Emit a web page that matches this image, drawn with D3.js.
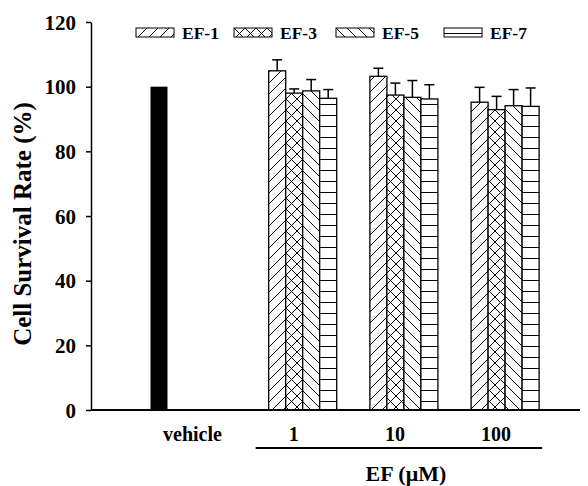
<!DOCTYPE html>
<html>
<head>
<meta charset="utf-8">
<script src="https://cdn.jsdelivr.net/npm/d3@7"></script>
<style>
  body { margin: 0; background: #fff; }
  svg text { font-family: "Liberation Serif", "Times New Roman", serif; font-weight: bold; fill: #000; }
</style>
</head>
<body>
<svg width="588" height="486"></svg>
<script>
// data
var groups = ["vehicle", "1", "10", "100"];
var series = ["EF-1", "EF-3", "EF-5", "EF-7"];
var vehicleVal = [100];
var ef1 = [104.9, 103.2, 95.2];
var ef3 = [98.0, 97.4, 92.9];
var ef5 = [98.7, 96.7, 94.1];
var ef7 = [96.4, 96.2, 93.9];
var ef1Err = [3.4, 2.5, 4.6];
var ef3Err = [1.3, 3.7, 4.1];
var ef5Err = [3.5, 5.2, 5.0];
var ef7Err = [2.7, 4.4, 5.7];
var yTicks = [0, 20, 40, 60, 80, 100, 120];

var svg = d3.select("svg");

var y = d3.scaleLinear().domain([0, 120]).range([410, 22]);
var x = d3.scaleBand().domain(groups).range([150.9, 555.7]).paddingInner(0.328).paddingOuter(0.164);
var xs = d3.scaleBand().domain(series).range([0, x.bandwidth()]);

// hatch patterns
var defs = svg.append("defs");
var hatch = {
  "EF-1": "M0,11 L11,0 M-3,3 L3,-3 M8,14 L14,8",
  "EF-3": "M0,11 L11,0 M-3,3 L3,-3 M8,14 L14,8 M0,0 L11,11 M-3,8 L3,14 M8,-3 L14,3",
  "EF-5": "M0,0 L11,11 M-3,8 L3,14 M8,-3 L14,3",
  "EF-7": "M0,5.5 L11,5.5"
};
series.forEach(function(s, i) {
  var p = defs.append("pattern")
    .attr("id", "pat" + i)
    .attr("patternUnits", "userSpaceOnUse")
    .attr("width", 11).attr("height", 11);
  p.append("rect").attr("width", 11).attr("height", 11).attr("fill", "#fff");
  p.append("path").attr("d", hatch[s]).attr("stroke", "#000").attr("stroke-width", 1).attr("fill", "none");
});

// y axis
var yAxis = svg.append("g")
  .attr("transform", "translate(91,0)")
  .call(d3.axisLeft(y).tickValues(yTicks).tickSize(5).tickSizeOuter(0).tickPadding(10));
yAxis.attr("font-family", null).attr("font-size", null);
yAxis.select(".domain").attr("stroke-width", 1.5);
yAxis.selectAll(".tick line").attr("stroke-width", 1.5);
yAxis.selectAll("text")
  .attr("font-weight", "bold")
  .style("font-size", "21px")
  .style("font-weight", "bold")
  .attr("dy", "0.34em");

svg.append("text")
  .attr("transform", "translate(31," + ((y(0) + y(120)) / 2 + 8) + ") rotate(-90)")
  .attr("text-anchor", "middle")
  .style("font-size", "25px")
  .text("Cell Survival Rate (%)");

// vehicle bar
svg.append("rect")
  .attr("x", x("vehicle") - xs.bandwidth())
  .attr("y", y(vehicleVal[0]))
  .attr("width", xs.bandwidth())
  .attr("height", y(0) - y(vehicleVal[0]))
  .attr("fill", "#000");

// grouped bars
var vals = [ef1, ef3, ef5, ef7];
var errs = [ef1Err, ef3Err, ef5Err, ef7Err];
var rows = [];
groups.slice(1).forEach(function(g, gi) {
  series.forEach(function(s, si) {
    rows.push({g: g, s: s, si: si, v: vals[si][gi], e: errs[si][gi]});
  });
});

var bars = svg.append("g");
bars.selectAll("line.err")
  .data(rows).enter().append("line")
  .attr("x1", d => x(d.g) + xs(d.s) + xs.bandwidth() / 2)
  .attr("x2", d => x(d.g) + xs(d.s) + xs.bandwidth() / 2)
  .attr("y1", d => y(d.v))
  .attr("y2", d => y(d.v + d.e))
  .attr("stroke", "#000").attr("stroke-width", 1.5);
bars.selectAll("line.cap")
  .data(rows).enter().append("line")
  .attr("x1", d => x(d.g) + xs(d.s) + xs.bandwidth() / 2 - 5)
  .attr("x2", d => x(d.g) + xs(d.s) + xs.bandwidth() / 2 + 5)
  .attr("y1", d => y(d.v + d.e))
  .attr("y2", d => y(d.v + d.e))
  .attr("stroke", "#000").attr("stroke-width", 1.5);
bars.selectAll("rect")
  .data(rows).enter().append("rect")
  .attr("x", d => x(d.g) + xs(d.s))
  .attr("y", d => y(d.v))
  .attr("width", xs.bandwidth())
  .attr("height", d => y(0) - y(d.v))
  .attr("fill", d => "url(#pat" + d.si + ")")
  .attr("stroke", "#000").attr("stroke-width", 1.3);

// x axis line
svg.append("line")
  .attr("x1", 91).attr("x2", 580)
  .attr("y1", y(0)).attr("y2", y(0))
  .attr("stroke", "#000").attr("stroke-width", 2);

// category labels
svg.selectAll("text.cat")
  .data(groups).enter().append("text")
  .attr("class", "cat")
  .attr("x", d => x(d) + x.bandwidth() / 2 - 9)
  .attr("y", 441)
  .attr("text-anchor", "middle")
  .style("font-size", "20px")
  .text(d => d);

svg.append("line")
  .attr("x1", x("1") - 13).attr("x2", x("100") + x.bandwidth() + 3)
  .attr("y1", 448).attr("y2", 448)
  .attr("stroke", "#000").attr("stroke-width", 2);

svg.append("text")
  .attr("x", x("10") + x.bandwidth() / 2 + 2)
  .attr("y", 481)
  .attr("text-anchor", "middle")
  .style("font-size", "22px")
  .text("EF (μM)");

// legend
var legX = [136, 234, 336, 444];
var leg = svg.selectAll("g.leg")
  .data(series).enter().append("g")
  .attr("class", "leg")
  .attr("transform", (d, i) => "translate(" + legX[i] + ",28)");
leg.append("rect")
  .attr("width", 38).attr("height", 9)
  .attr("fill", (d, i) => "url(#pat" + i + ")")
  .attr("stroke", "#000").attr("stroke-width", 1);
leg.append("text")
  .attr("x", 46).attr("y", 10.5)
  .style("font-size", "17.5px")
  .text(d => d);
</script>
</body>
</html>
